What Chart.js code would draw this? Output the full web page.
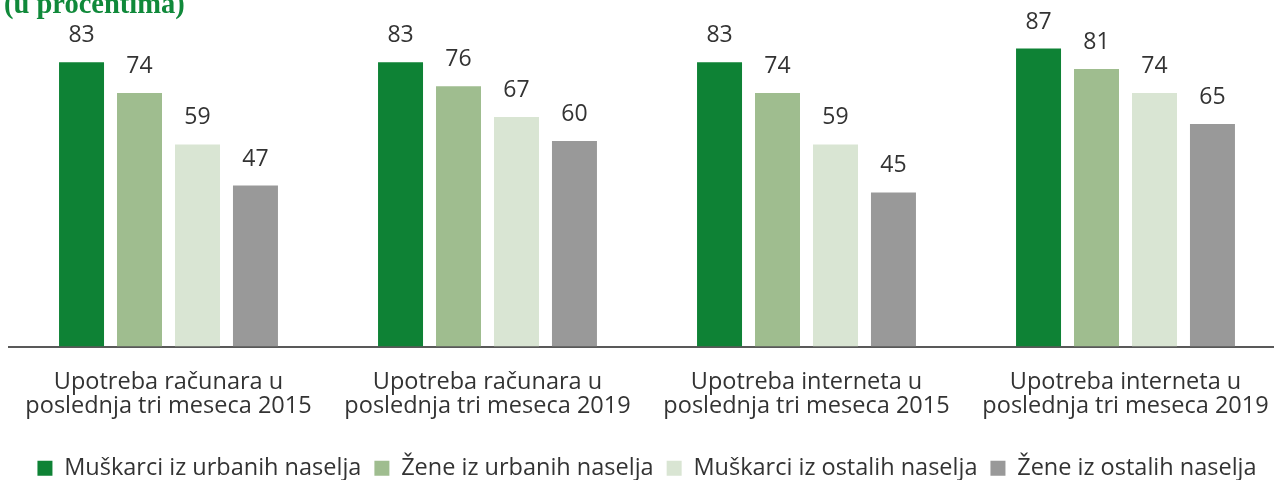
<!DOCTYPE html>
<html>
<head>
<meta charset="utf-8">
<script src="https://cdn.jsdelivr.net/npm/chart.js@4"></script>
<style>
    html, body { margin: 0; padding: 0; background: #fff; overflow: hidden; }
    #wrap { position: relative; width: 1274px; height: 480px; overflow: hidden; }
    #box { position: absolute; left: 0; top: 0; width: 1290px; height: 490px; }
    #naslov {
        position: absolute; left: 4px; top: -12px;
        font: bold 28.5px "Liberation Serif", "DejaVu Serif", serif;
        color: #10893a; white-space: nowrap;
    }
</style>
</head>
<body>
<div id="wrap">
    <div id="box"><canvas id="chart"></canvas></div>
    <div id="naslov">(u procentima)</div>
</div>
<script>
// Kategorije i vrednosti
const kategorije = [
    ['Upotreba računara u', 'poslednja tri meseca 2015'],
    ['Upotreba računara u', 'poslednja tri meseca 2019'],
    ['Upotreba interneta u', 'poslednja tri meseca 2015'],
    ['Upotreba interneta u', 'poslednja tri meseca 2019']
];
const muskarciUrbani = [83, 83, 83, 87];
const zeneUrbane = [74, 76, 74, 81];
const muskarciOstali = [59, 67, 59, 74];
const zeneOstale = [47, 60, 45, 65];

const font = '"Open Sans", "Noto Sans", sans-serif';

// Vrednosti iznad stubova
const vrednostiPlugin = {
    id: 'vrednosti',
    afterDatasetsDraw(chart) {
        const ctx = chart.ctx;
        ctx.save();
        ctx.font = '23px ' + font;
        ctx.fillStyle = '#333';
        ctx.textAlign = 'center';
        ctx.textBaseline = 'alphabetic';
        chart.data.datasets.forEach((ds, i) => {
            chart.getDatasetMeta(i).data.forEach((bar, j) => {
                ctx.fillText(ds.data[j], bar.x, bar.y - 20);
            });
        });
        ctx.restore();
    }
};

new Chart(document.getElementById('chart'), {
    type: 'bar',
    data: {
        labels: kategorije,
        datasets: [
            { label: 'Muškarci iz urbanih naselja', data: muskarciUrbani, backgroundColor: '#0e8235' },
            { label: 'Žene iz urbanih naselja', data: zeneUrbane, backgroundColor: '#9fbd8f' },
            { label: 'Muškarci iz ostalih naselja', data: muskarciOstali, backgroundColor: '#d9e5d3' },
            { label: 'Žene iz ostalih naselja', data: zeneOstale, backgroundColor: '#999999' }
        ]
    },
    options: {
        responsive: true,
        maintainAspectRatio: false,
        animation: false,
        categoryPercentage: 0.727,
        barPercentage: 0.776,
        layout: { padding: { left: 9, right: 5, top: 4, bottom: 0 } },
        plugins: {
            legend: {
                position: 'bottom',
                labels: {
                    boxWidth: 15,
                    boxHeight: 15,
                    padding: 13,
                    color: '#333',
                    font: { family: font, size: 23.5 }
                }
            },
            tooltip: { enabled: false }
        },
        scales: {
            y: {
                display: false,
                min: 0,
                max: 100
            },
            x: {
                grid: { display: false },
                border: { display: true, color: '#595959', width: 2 },
                ticks: {
                    color: '#333',
                    padding: 16,
                    font: { family: font, size: 23.5, lineHeight: 1.02 }
                },
                // prostor izmedju oznaka i legende
                afterFit(scale) { scale.height = 97; }
            }
        }
    },
    plugins: [vrednostiPlugin]
});
</script>
</body>
</html>
